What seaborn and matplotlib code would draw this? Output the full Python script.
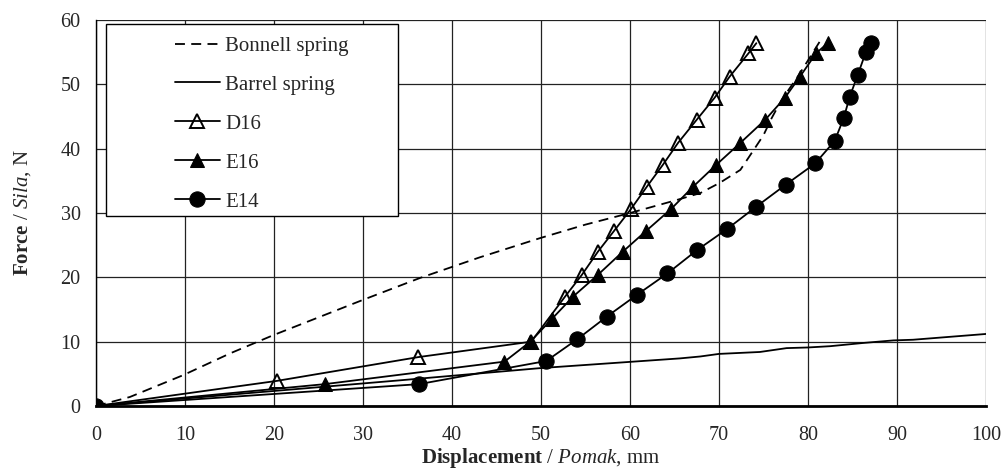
import matplotlib
matplotlib.use("Agg")
import matplotlib.pyplot as plt
from matplotlib.patches import Rectangle
import seaborn as sns

# Force-displacement curves of the spring units
bonnell_x = [0, 3.8, 9.8, 15.1, 19.9, 30.0, 36.4, 43.1, 49.9, 55.0, 60.0, 65.2, 67.9,
             70.1, 72.4, 73.9, 75.0, 75.9, 77.0, 79.0, 81.3]
bonnell_y = [0, 1.4, 4.8, 8.2, 11.0, 16.5, 19.9, 23.1, 26.1, 28.2, 30.0, 32.0, 33.1,
             34.7, 36.7, 39.8, 42.1, 44.7, 47.5, 51.5, 56.6]

barrel_x = [0, 34.2, 50.0, 65.6, 67.9, 70.0, 74.6, 77.6, 80.0, 82.5, 86.2, 89.6, 91.8, 100.0]
barrel_y = [0, 4.0, 5.9, 7.4, 7.7, 8.1, 8.4, 9.0, 9.1, 9.3, 9.8, 10.2, 10.3, 11.2]

d16_x = [0, 20.3, 36.2, 48.9, 52.7, 54.6, 56.4, 58.2, 60.1, 61.9, 63.7, 65.4, 67.5,
         69.5, 71.2, 73.3, 74.2]
d16_y = [0, 3.9, 7.6, 10.0, 17.0, 20.4, 24.0, 27.2, 30.6, 34.1, 37.5, 40.9, 44.5,
         47.9, 51.2, 54.8, 56.4]

e16_x = [0, 25.7, 45.9, 48.8, 51.2, 53.6, 56.4, 59.2, 61.8, 64.6, 67.1, 69.7, 72.4,
         75.2, 77.4, 79.1, 80.9, 82.2]
e16_y = [0, 3.4, 6.9, 10.0, 13.5, 17.0, 20.4, 24.0, 27.2, 30.6, 34.1, 37.5, 40.9,
         44.5, 47.9, 51.2, 54.8, 56.4]

e14_x = [0, 36.3, 50.6, 54.1, 57.4, 60.8, 64.2, 67.5, 70.9, 74.2, 77.5, 80.8, 83.0,
         84.0, 84.7, 85.6, 86.5, 87.1]
e14_y = [0, 3.4, 7.0, 10.4, 13.9, 17.3, 20.6, 24.2, 27.5, 31.0, 34.4, 37.7, 41.2,
         44.7, 48.1, 51.5, 55.0, 56.5]

x_ticks = [0, 10, 20, 30, 40, 50, 60, 70, 80, 90, 100]
y_ticks = [0, 10, 20, 30, 40, 50, 60]

sns.set_style("white")
plt.rcParams["font.family"] = ["Liberation Serif", "DejaVu Serif"]
plt.rcParams["mathtext.fontset"] = "custom"
plt.rcParams["mathtext.rm"] = "Liberation Serif"
plt.rcParams["mathtext.it"] = "Liberation Serif:italic"
plt.rcParams["mathtext.bf"] = "Liberation Serif:bold"

fig = plt.figure(figsize=(10.02, 4.72), dpi=100)
ax = fig.add_axes([0.0958, 0.1398, 0.8882, 0.8178])

lw = 1.3
common = dict(ax=ax, color="black", linewidth=lw, sort=False, estimator=None)

sns.lineplot(x=bonnell_x, y=bonnell_y, linestyle=(0, (5.5, 3.5)),
             label="Bonnell spring", **common)
sns.lineplot(x=barrel_x, y=barrel_y, label="Barrel spring", **common)
sns.lineplot(x=d16_x, y=d16_y, marker="^", markersize=9.5, markerfacecolor="none",
             markeredgecolor="black", markeredgewidth=1.4, label="D16", **common)
sns.lineplot(x=e16_x, y=e16_y, marker="^", markersize=10.5, markerfacecolor="black",
             markeredgecolor="black", label="E16", **common)
sns.lineplot(x=e14_x, y=e14_y, marker="o", markersize=11, markerfacecolor="black",
             markeredgecolor="black", label="E14", **common)

ax.set_xlim(0, 100)
ax.set_ylim(0, 60)
ax.set_xticks(x_ticks)
ax.set_yticks(y_ticks)
ax.grid(True, color="#222222", linewidth=0.9)
ax.set_axisbelow(True)

for side in ("top", "right"):
    ax.spines[side].set_visible(False)
ax.spines["left"].set_color("black")
ax.spines["left"].set_linewidth(1.0)
ax.spines["bottom"].set_color("black")
ax.spines["bottom"].set_linewidth(2.0)
ax.tick_params(axis="both", direction="out", length=4, width=0.9, color="black",
               labelsize=14.5)
ax.tick_params(axis="x", pad=10.5)
ax.tick_params(axis="y", pad=7)

ax.set_xlabel(r"$\mathbf{Displacement}$ / $\mathit{Pomak}$, mm", fontsize=15, labelpad=0.5)
ax.set_ylabel(r"$\mathbf{Force}$ / $\mathit{Sila}$, N", fontsize=15, labelpad=20)

# legend box with the entries placed inside it
ax.add_patch(Rectangle((0.0112, 0.492), 0.328, 0.4976, transform=ax.transAxes,
                       facecolor="white", edgecolor="black", linewidth=1.0, zorder=5))
leg = ax.legend(loc="upper left", bbox_to_anchor=(0.0888, 0.958), frameon=False,
                borderpad=0, borderaxespad=0, handlelength=2.15, handletextpad=0.25,
                labelspacing=0.93, fontsize=15)
leg.set_zorder(6)

fig.savefig("out.png", dpi=100, facecolor="white")
